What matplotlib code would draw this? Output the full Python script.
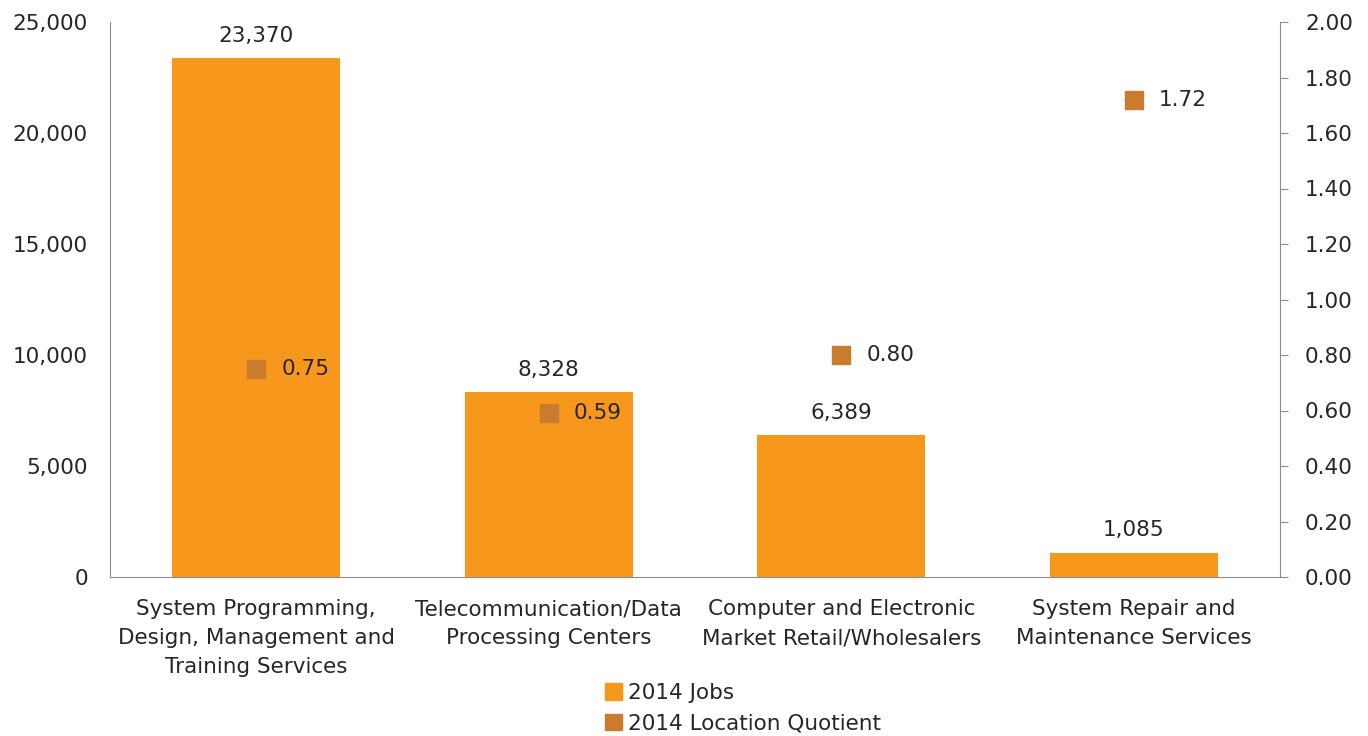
import matplotlib
matplotlib.use("Agg")
import matplotlib.pyplot as plt
from matplotlib.patches import Patch

plt.rcParams['font.family'] = ['DejaVu Sans']

categories = ["System Programming,\nDesign, Management and\nTraining Services",
              "Telecommunication/Data\nProcessing Centers",
              "Computer and Electronic\nMarket Retail/Wholesalers",
              "System Repair and\nMaintenance Services"]
jobs = [23370, 8328, 6389, 1085]
lq = [0.75, 0.59, 0.80, 1.72]
jobs_ticks = [0, 5000, 10000, 15000, 20000, 25000]
lq_ticks = [0.0, 0.2, 0.4, 0.6, 0.8, 1.0, 1.2, 1.4, 1.6, 1.8, 2.0]

bar_color = "#F7981D"
lq_color = "#C97B2E"
text_color = "#262626"
spine_color = "#8C8C8C"
fs = 15.5

fig = plt.figure(figsize=(13.68, 7.36), dpi=100)
ax = fig.add_axes([110/1368, 1-577/736, 1170/1368, 555/736])
ax2 = ax.twinx()

x = list(range(len(categories)))
ax.bar(x, jobs, width=0.575, color=bar_color, zorder=2)
ax.set_xlim(-0.5, len(categories)-0.5)
ax.set_ylim(0, 25000)
ax.set_yticks(jobs_ticks)
ax.set_yticklabels([f"{v:,}" for v in jobs_ticks])
ax.set_xticks(x)
ax.set_xticklabels(categories, linespacing=1.55)

for xi, v in zip(x, jobs):
    ax.annotate(f"{v:,}", (xi, v), xytext=(0, 9), textcoords="offset points",
                ha="center", va="bottom", fontsize=fs, color=text_color)

ax2.plot(x, lq, linestyle="none", marker="s", markersize=13, color=lq_color, zorder=3)
ax2.set_ylim(0, 2.0)
ax2.set_yticks(lq_ticks)
ax2.set_yticklabels([f"{v:.2f}" for v in lq_ticks])
for xi, v in zip(x, lq):
    ax2.annotate(f"{v:.2f}", (xi, v), xytext=(18, 0), textcoords="offset points",
                 ha="left", va="center", fontsize=fs, color=text_color)

for a in (ax, ax2):
    a.spines['top'].set_visible(False)
    a.tick_params(colors=text_color, labelsize=fs)
ax.spines['right'].set_visible(False)
ax2.spines['left'].set_visible(False)
ax.spines['left'].set_color(spine_color)
ax.spines['bottom'].set_color(spine_color)
ax2.spines['right'].set_color(spine_color)
ax2.spines['bottom'].set_visible(False)
ax.tick_params(axis='y', length=0, pad=16)
ax.tick_params(axis='x', length=0, pad=16)
ax2.tick_params(axis='y', length=6, color=spine_color, pad=12)
for lbl in ax2.get_yticklabels():
    lbl.set_color(text_color)

handles = [Patch(color=bar_color, label="2014 Jobs"),
           Patch(color=lq_color, label="2014 Location Quotient")]
leg = fig.legend(handles=handles, loc="upper left", bbox_to_anchor=(594/1368, 1-672/736),
                 frameon=False, fontsize=fs, handlelength=0.8, handleheight=0.8,
                 handletextpad=0.3, labelspacing=0.5, borderpad=0)
for t in leg.get_texts():
    t.set_color(text_color)

fig.savefig("out.png", dpi=100)
